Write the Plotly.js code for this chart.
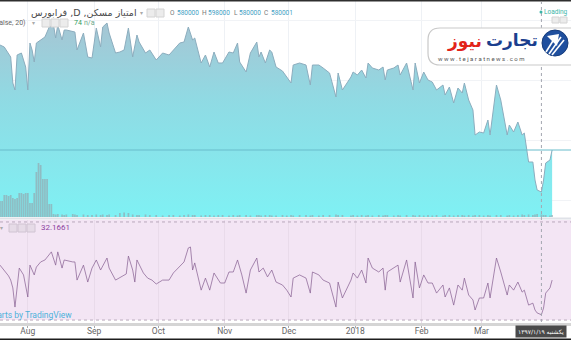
<!DOCTYPE html>
<html><head><meta charset="utf-8">
<script src="https://cdn.plot.ly/plotly-3.0.1.min.js"></script>
<style>html,body{margin:0;padding:0;background:#fff;overflow:hidden}#chart{width:571px;height:340px}</style>
</head><body><div id="chart"></div>
<script>
// ---- data (day offsets from 2017-07-19) ----
const priceDays = [0,2,5,6,7,8,10,12,13,14,15,16,17,19,21,23,25,26,27,29,30,31,34,35,36,39,41,43,45,47,48,50,51,54,56,58,60,62,64,65,68,70,73,76,79,81,84,86,88,90,91,94,96,98,100,102,104,107,109,111,112,115,117,120,121,122,124,126,127,129,132,134,136,137,140,143,145,146,149,151,154,157,158,160,164,165,167,169,171,172,174,177,179,180,181,184,186,187,190,193,194,196,198,200,202,204,207,208,210,212,214,216,217,219,221,222,224,226,228,229,232,234,237,238,240,242,244,245,247,249,250,251,253,254,255,257,258];
const prices = [790000,786000,766000,714000,700000,770000,774000,746000,700000,794000,
780000,756000,794000,800000,806000,826000,830000,804000,830000,800000,
820000,820000,816000,816000,780000,814000,766000,764000,824000,786000,
826000,834000,814000,774000,776000,780000,824000,766000,810000,796000,
774000,780000,760000,774000,770000,780000,794000,796000,826000,800000,
804000,754000,770000,746000,776000,754000,754000,776000,774000,794000,
756000,736000,774000,796000,766000,776000,754000,780000,776000,746000,
738000,726000,714000,750000,754000,750000,710000,750000,750000,744000,
734000,686000,734000,700000,726000,736000,730000,740000,724000,754000,
744000,740000,746000,720000,740000,744000,750000,730000,754000,700000,
754000,714000,736000,720000,716000,700000,710000,690000,706000,674000,
704000,694000,714000,680000,660000,610000,616000,614000,640000,610000,
710000,680000,610000,630000,616000,636000,610000,614000,556000,556000,
520000,500000,496000,520000,554000,560000,580000];

const volumeDays = [0,1,2,3,4,5,6,7,8,9,10,11,12,13,14,15,16,17,18,19,20,21,22,23,24,
25,26,27,29,30,31,34,35,36,39,41,43,45,47,48,50,51,54,56,58,60,62,64,65,68,70,73,76,79,81,84,86,88,90,91,94,96,98,100,102,104,107,109,111,112,115,117,120,121,122,124,126,127,129,132,134,136,137,140,143,145,146,149,151,154,157,158,160,164,165,167,169,171,172,174,177,179,180,181,184,186,187,190,193,194,196,198,200,202,204,207,208,210,212,214,216,217,219,221,222,224,226,228,229,232,234,237,238,240,242,244,245,247,249,250,251,253,254,255,257,258];
const volumes = [32,32,44,44,42,44,38,36,38,48,48,46,48,48,28,28,48,90,108,104,76,76,76,26,26,
6,5,6,5,4,5,6,5,4,5, 4,4,5,4,5,4,5,4,8,9, 8,5,4,4,5,4,4,3,4,4, 3,4,5,4,4,3,4,4,3,4,
4,3,4,3,4,4,3,4,4,3, 4,4,3,3,4,3,4,3,4,4, 3,4,3,4,4,5,4,4,3,4, 3,4,3,4,3,4,3,4,4,3,
4,3,4,4,3,4,3,4,3,4, 3,4,4,3,4,4,3,4,3,4, 4,3,4,3,4,4,3,4,3,4, 5,4,5,4,5,6,5,4,4,3, 4];

const rsiDays = [0,2,4,5,6,7,8,9,11,13,14,16,17,19,21,24,26,27,29,30,34,35,36,39,41,43,45,47,50,51,54,57,59,60,62,63,64,67,69,71,73,76,79,81,84,86,88,89,90,91,94,96,98,100,103,105,107,109,111,113,115,117,120,121,123,125,127,129,132,134,136,137,140,143,145,146,149,151,154,157,158,160,164,165,167,169,171,172,174,177,179,180,181,184,186,187,190,193,194,196,198,200,202,204,207,208,210,212,214,216,217,219,221,222,224,226,228,229,232,234,237,238,240,242,244,245,247,249,250,251,253,254,255,257,258];
const rsiValues = [52.4,50.4,48.0,46.3,43.1,35.3,43.1,51.2,48.4,39.4,
52.4,48.4,51.6,53.7,54.5,57.8,52.4,57.8,51.2,54.5,
53.7,53.7,46.3,52.4,45.5,51.2,54.5,50.4,55.3,51.2,
46.3,47.6,48.8,56.1,50.4,45.5,54.5,49.2,47.1,46.3,
44.7,46.3,46.3,49.2,52.0,53.7,59.4,59.8,50.4,53.3,
42.2,47.1,42.2,49.2,45.1,45.1,49.6,49.6,54.5,48.4,
41.0,50.4,55.3,49.6,51.2,47.6,50.4,45.5,44.3,42.2,
39.4,47.1,48.4,47.1,41.0,49.6,48.4,46.3,45.1,35.3,
45.5,39.0,46.3,49.2,47.1,50.4,45.1,55.3,51.2,49.6,
51.2,42.2,49.6,51.2,52.4,45.5,54.5,39.0,53.7,43.1,
48.4,45.1,45.1,41.0,44.3,39.4,43.1,36.1,44.3,42.2,
47.1,40.2,38.2,34.1,39.0,39.0,45.1,39.0,55.3,49.6,
40.2,44.3,42.2,45.5,41.4,42.2,36.1,36.9,34.1,32.9,
32.17,34.9,41.0,43.1,46.3];

const monthTicks = ['2017-08-01','2017-09-01','2017-10-01','2017-11-01','2017-12-01','2018-01-01','2018-02-01','2018-03-01'];
const monthLabels = ['Aug','Sep','Oct','Nov','Dec','2018','Feb','Mar'];
const ohlcLabels = ['O','H','L','C'];
const ohlcValues = ['580000','598000','580000','580001'];
const lastPrice = 580000;
const crosshairDay = 253;
const rsiLegend = '32.1661';
const volLegend = ['74','n/a'];
const rsiBands = [30,70];

// ---- helpers ----
const W = 571, H = 340;
const px = x => x / W, py = y => 1 - y / H;
const DAY = 86400000, T0 = Date.UTC(2017,6,19);
const toDate = d => new Date(T0 + d*DAY).toISOString().slice(0,19).replace('T',' ');
const xr = [toDate(0), toDate(W/2.14)];
const LAT = 'Roboto, sans-serif', FA = 'DejaVu Sans, sans-serif';

const traces = [
  {type:'scatter', mode:'lines', x:priceDays.map(toDate), y:prices, xaxis:'x', yaxis:'y',
   line:{color:'#8cadbe', width:1}, fill:'tozeroy',
   fillgradient:{type:'vertical', start:446000, stop:860000, colorscale:[[0,'#7ff1f4'],[0.55,'#8fdbe4'],[1,'#a9c2d1']]},
   fillcolor:'#93d6e0', hoverinfo:'skip'},
  {type:'bar', x:volumeDays.map(toDate), y:volumes, xaxis:'x', yaxis:'y3', width:DAY*0.8,
   marker:{color:'rgba(150,160,168,0.62)', line:{width:0}}, hoverinfo:'skip'},
  {type:'scatter', mode:'lines', x:rsiDays.map(toDate), y:rsiValues, xaxis:'x2', yaxis:'y2',
   line:{color:'rgba(135,95,145,0.72)', width:1}, hoverinfo:'skip'}
];

const box = (a,b,t,bt,fill,lc)=>({type:'rect', xref:'paper', yref:'paper', x0:px(a), x1:px(b), y0:py(bt), y1:py(t), fillcolor:fill, line:{color:lc, width:1}});

const shapes = [
  {type:'rect', xref:'paper', yref:'y2', x0:0, x1:1, y0:rsiBands[0], y1:70.8, fillcolor:'#f3e5f4', line:{width:0}, layer:'below'},
  {type:'line', xref:'paper', yref:'y2', x0:0, x1:1, y0:rsiBands[1], y1:rsiBands[1], line:{color:'#b8a8bb', width:1, dash:'3px,3px'}},
  {type:'line', xref:'paper', yref:'y2', x0:0, x1:1, y0:rsiBands[0], y1:rsiBands[0], line:{color:'#b8a8bb', width:1, dash:'3px,3px'}},
  {type:'line', xref:'paper', yref:'paper', x0:0, x1:1, y0:py(218.5), y1:py(218.5), line:{color:'#dfe2e8', width:2}},
  {type:'line', xref:'paper', yref:'y', x0:0, x1:1, y0:lastPrice, y1:lastPrice, line:{color:'#69bccb', width:1}},
  {type:'line', xref:'x', yref:'paper', x0:toDate(crosshairDay), x1:toDate(crosshairDay), y0:py(322), y1:py(2), line:{color:'#a3a7b0', width:1, dash:'dot'}},
  {type:'rect', xref:'paper', yref:'paper', x0:0, x1:1, y0:py(1.5), y1:1, fillcolor:'#2e2e2e', line:{width:0}},
  {type:'rect', xref:'paper', yref:'paper', x0:0, x1:1, y0:0, y1:py(338.5), fillcolor:'#1e1e1e', line:{width:0}},
  box(147,155,9,17,'#ececec','#d4d4d4'), box(156,164,9,17,'#ececec','#d4d4d4'),
  box(42,50,19,27,'#ececec','#d4d4d4'), box(51,59,19,27,'#ececec','#d4d4d4'), box(60,68,19,27,'#ececec','#d4d4d4'),
  box(9,17,224,232,'#e6dbe7','#d0c4d2'), box(18,26,224,232,'#e6dbe7','#d0c4d2'), box(27,35,224,232,'#e6dbe7','#d0c4d2'),
  box(552,559,17,23,'#ececec','#d4d4d4'), box(560,567,17,23,'#ececec','#d4d4d4'),
  {type:'circle', xref:'paper', yref:'paper', x0:px(539.5), x1:px(542.5), y0:py(13.5), y1:py(10.5), fillcolor:'#3cb5a8', line:{width:0}},
  {type:'path', xref:'paper', yref:'paper',
   path:`M ${px(440)} ${py(28)} L ${px(575)} ${py(28)} L ${px(575)} ${py(65)} L ${px(440)} ${py(65)} Q ${px(428)} ${py(65)} ${px(428)} ${py(53)} L ${px(428)} ${py(40)} Q ${px(428)} ${py(28)} ${px(440)} ${py(28)} Z`,
   fillcolor:'#ffffff', line:{color:'#c9c9c9', width:1.2}},
  {type:'circle', xref:'paper', yref:'paper', x0:px(542), x1:px(568), y0:py(56), y1:py(30), fillcolor:'#1f4f9e', line:{color:'#163c7c', width:1}},
  ...[[546,52,556,36],[549,54,561,37],[552,55,564,40]].map(([a,b,c,d])=>({type:'line', xref:'paper', yref:'paper', x0:px(a), y0:py(b), x1:px(c), y1:py(d), line:{color:'#ffffff', width:1.6}})),
  {type:'path', xref:'paper', yref:'paper', path:`M ${px(547)} ${py(36)} L ${px(559)} ${py(34)} L ${px(557)} ${py(46)} Z`, fillcolor:'#ffffff', line:{width:0}}
];

const A = (x, y, text, size, color, opts={}) => Object.assign({xref:'paper', yref:'paper', x:px(x), y:py(y), text, showarrow:false,
  xanchor:'left', yanchor:'middle', borderpad:0, font:{size, color, family:LAT}}, opts);

const ohlcX = [[169,176],[201,207],[233,238],[263,270]];
const annotations = [
  A(30, 13, 'فرابورس ,D ,امتیاز مسکن', 9.5, '#4a4a4a', {font:{size:9.5, color:'#4a4a4a', family:FA}}),
  A(139, 13, '▾', 6, '#aaa'),
  ...ohlcLabels.flatMap((l,i)=>[A(ohlcX[i][0], 13, l, 6.5, '#777'), A(ohlcX[i][1], 13, ohlcValues[i], 6.5, '#3f9ec3')]),
  A(27, 23, 'Volume (20, false, 20)', 7, '#666', {xanchor:'right'}),
  A(31, 23, '▾', 6, '#aaa'),
  A(73, 23, volLegend[0], 7, '#2f9e5e'),
  A(83, 23, volLegend[1], 7, '#6aa98a'),
  A(-1, 228, '▾', 6, '#aaa'),
  A(40, 228, rsiLegend, 8, '#8d3f9f'),
  A(73, 315, 'Charts by TradingView', 8.5, '#4db2da', {xanchor:'right'}),
  A(543, 12, 'Loading', 6.5, '#3cb5a8'),
  A(483, 41, 'نیوز', 17, '#e2231a', {xanchor:'right', font:{size:17, color:'#e2231a', family:FA, weight:'bold'}}),
  A(485, 40, 'تجارت', 17, '#1b3f8e', {font:{size:17, color:'#1b3f8e', family:FA, weight:'bold'}}),
  A(481, 58, 'w w w . t e j a r a t n e w s . c o m', 6, '#555', {xanchor:'center'}),
  {xref:'x2', yref:'paper', x:toDate(crosshairDay), y:py(331.5), text:'یکشنبه ۱۳۹۷/۱/۱۹', showarrow:false, xanchor:'center', yanchor:'middle',
   bgcolor:'#4a4a4a', borderpad:2, font:{size:6, color:'#ffffff', family:FA}}
];

const layout = {
  width:W, height:H, margin:{l:0, r:0, t:0, b:0}, paper_bgcolor:'#ffffff', plot_bgcolor:'rgba(0,0,0,0)',
  showlegend:false, bargap:0.2, hovermode:false,
  font:{family:LAT, size:9, color:'#555'},
  xaxis:{type:'date', range:xr, domain:[0,1], anchor:'y', tickvals:monthTicks, showticklabels:false, ticks:'',
         showgrid:true, gridcolor:'#eef1f5', zeroline:false, showline:false, fixedrange:true},
  xaxis2:{type:'date', range:xr, domain:[0,1], anchor:'y2', tickvals:monthTicks, ticktext:monthLabels,
          ticks:'outside', ticklen:2, tickcolor:'#aaaaaa', showline:true, linecolor:'#d5d5d5', linewidth:3,
          ticklabelstandoff:-4,
          showgrid:true, gridcolor:'#e9dbea', zeroline:false, tickfont:{size:8.5, color:'#666', family:LAT}, fixedrange:true},
  yaxis:{domain:[py(217), 1], range:[446000, 880000], showticklabels:false, showgrid:true, gridcolor:'#f1f3f6',
         tick0:480000, dtick:120000, zeroline:false, fixedrange:true},
  yaxis3:{overlaying:'y', anchor:'x', range:[0, 434], visible:false, fixedrange:true},
  yaxis2:{domain:[py(323), py(220)], range:[28.8, 70.8], showticklabels:false, showgrid:false, zeroline:false, fixedrange:true},
  shapes, annotations
};

Plotly.newPlot('chart', traces, layout, {displayModeBar:false, staticPlot:true});
</script></body></html>
